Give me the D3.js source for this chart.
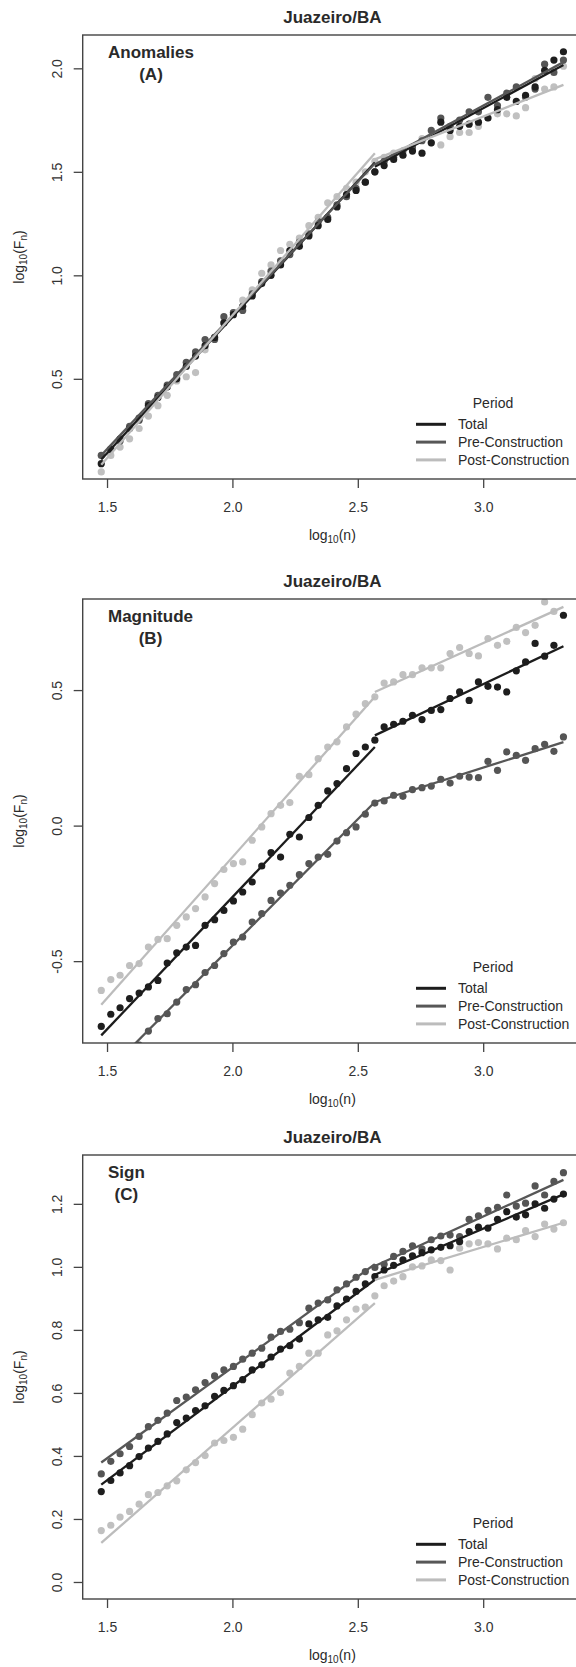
<!DOCTYPE html>
<html>
<head>
<meta charset="utf-8">
<script src="https://cdn.jsdelivr.net/npm/d3@7"></script>
<style>
body { margin: 0; background: #fff; }
svg text { font-family: "Liberation Sans", Arial, sans-serif; fill: #2a2a2a; }
</style>
</head>
<body>
<svg id="chart" width="576" height="1667"></svg>
<script>
// window size x = log10(n)
var logN = [1.477,1.515,1.552,1.590,1.628,1.665,1.703,1.740,1.778,1.816,1.853,1.891,1.929,1.966,2.004,2.041,2.079,2.117,2.154,2.192,
            2.229,2.267,2.305,2.342,2.380,2.417,2.455,2.493,2.530,2.568,2.605,2.643,2.680,2.718,2.756,2.793,2.831,2.868,2.906,2.944,
            2.981,3.019,3.057,3.094,3.132,3.169,3.207,3.245,3.282,3.320];

var periods = ["Total", "Pre-Construction", "Post-Construction"];

// (A) anomalies, log10(Fn)
var anomTotal = [0.09,0.16,0.21,0.26,0.31,0.37,0.41,0.46,0.50,0.56,0.61,0.66,0.70,0.77,0.81,0.85,0.90,0.96,1.00,1.05,
                 1.12,1.14,1.19,1.24,1.27,1.33,1.39,1.41,1.45,1.50,1.53,1.56,1.58,1.60,1.59,1.64,1.74,1.70,1.72,1.73,
                 1.74,1.76,1.80,1.86,1.84,1.87,1.91,1.99,2.04,2.08];
var anomPre = [0.13,0.16,0.20,0.27,0.30,0.38,0.42,0.47,0.52,0.58,0.63,0.69,0.69,0.80,0.82,0.83,0.91,0.97,1.02,1.07,
               1.10,1.16,1.20,1.26,1.28,1.34,1.38,1.42,1.45,1.50,1.55,1.57,1.60,1.62,1.65,1.70,1.76,1.72,1.75,1.79,
               1.79,1.86,1.82,1.88,1.91,1.86,1.90,2.02,1.98,2.04];
var anomPost = [0.05,0.13,0.17,0.21,0.26,0.32,0.37,0.42,0.49,0.51,0.53,0.64,0.70,0.77,0.82,0.88,0.93,1.01,1.05,1.12,
                1.15,1.18,1.24,1.28,1.35,1.38,1.42,1.45,1.50,1.55,1.57,1.59,1.58,1.62,1.66,1.64,1.63,1.67,1.69,1.69,
                1.72,1.76,1.78,1.78,1.77,1.81,1.95,1.90,1.91,2.01];
// fitted segments: [x0, y0, x1, y1]
var anomFitTotal = [[1.477,0.11,2.568,1.545],[2.568,1.525,3.32,2.016]];
var anomFitPre = [[1.477,0.13,2.568,1.54],[2.568,1.535,3.32,2.03]];
var anomFitPost = [[1.477,0.085,2.568,1.59],[2.568,1.56,3.32,1.92]];

// (B) magnitude
var magTotal = [-0.741,-0.696,-0.672,-0.638,-0.618,-0.595,-0.571,-0.507,-0.469,-0.448,-0.442,-0.368,-0.347,-0.313,-0.278,-0.245,-0.208,-0.149,-0.100,-0.116,
                -0.032,-0.042,0.030,0.075,0.128,0.155,0.210,0.266,0.290,0.315,0.364,0.374,0.385,0.407,0.391,0.425,0.428,0.469,0.493,0.462,
                0.530,0.514,0.511,0.493,0.571,0.604,0.672,0.625,0.665,0.776];
var magPre = [-0.93,-0.89,-0.86,-0.83,-0.81,-0.758,-0.712,-0.694,-0.651,-0.605,-0.587,-0.542,-0.516,-0.472,-0.430,-0.411,-0.356,-0.325,-0.276,-0.249,
              -0.220,-0.181,-0.140,-0.116,-0.106,-0.057,-0.026,-0.005,0.042,0.083,0.091,0.112,0.108,0.133,0.140,0.146,0.171,0.157,0.182,0.179,
              0.177,0.237,0.204,0.272,0.259,0.241,0.284,0.300,0.274,0.327];
var magPost = [-0.608,-0.568,-0.552,-0.516,-0.509,-0.448,-0.420,-0.417,-0.368,-0.337,-0.306,-0.263,-0.214,-0.162,-0.140,-0.134,-0.054,-0.005,0.044,0.075,
               0.085,0.182,0.188,0.247,0.290,0.309,0.364,0.411,0.450,0.475,0.526,0.530,0.557,0.557,0.582,0.582,0.582,0.635,0.657,0.635,
               0.626,0.690,0.665,0.680,0.731,0.712,0.739,0.825,0.790,0.850];
var magFitTotal = [[1.477,-0.774,2.568,0.29],[2.568,0.333,3.32,0.662]];
var magFitPre = [[1.477,-0.93,2.568,0.087],[2.568,0.087,3.32,0.308]];
var magFitPost = [[1.477,-0.661,2.568,0.475],[2.568,0.493,3.32,0.807]];

// (C) sign
var signTotal = [0.287,0.322,0.346,0.369,0.398,0.425,0.446,0.470,0.506,0.520,0.544,0.559,0.589,0.608,0.623,0.642,0.673,0.689,0.714,0.739,
                 0.750,0.771,0.819,0.832,0.840,0.876,0.898,0.922,0.946,0.969,0.990,1.005,1.022,1.035,1.045,1.054,1.062,1.067,1.080,1.112,
                 1.126,1.123,1.151,1.175,1.158,1.165,1.200,1.186,1.215,1.231];
var signPre = [0.343,0.383,0.407,0.430,0.462,0.493,0.513,0.536,0.576,0.587,0.610,0.633,0.654,0.673,0.684,0.707,0.726,0.742,0.777,0.795,
               0.802,0.823,0.869,0.885,0.895,0.927,0.946,0.967,0.985,0.998,1.008,1.033,1.049,1.067,1.057,1.086,1.098,1.101,1.096,1.151,
               1.162,1.179,1.189,1.228,1.193,1.202,1.257,1.228,1.271,1.299];
var signPost = [0.163,0.180,0.206,0.224,0.247,0.277,0.284,0.305,0.321,0.356,0.379,0.401,0.441,0.449,0.459,0.485,0.531,0.568,0.580,0.601,
                0.663,0.684,0.726,0.726,0.784,0.797,0.832,0.866,0.872,0.908,0.940,0.955,0.969,1.000,1.003,1.022,1.020,0.990,1.059,1.073,
                1.077,1.073,1.057,1.091,1.086,1.115,1.096,1.136,1.120,1.140];
var signFitTotal = [[1.477,0.309,2.568,0.959],[2.568,0.975,3.32,1.23]];
var signFitPre = [[1.477,0.379,2.568,1.0085],[2.568,1.003,3.32,1.276]];
var signFitPost = [[1.477,0.124,2.568,0.885],[2.568,0.959,3.32,1.14]];

var xTicks = [1.5, 2.0, 2.5, 3.0];

// layout
var xLimits = [1.403, 3.394];
var plotLeft = 82.7, plotRight = 582, plotHeight = 444;
var colors = ["#1c1c1c", "#575757", "#bcbcbc"];
var pointColors = ["#1e1e1e", "#555555", "#c0c0c0"];

var panels = [
  {id: "A", top: 35, yLim: [0.016, 2.161], yTicks: [0.5, 1.0, 1.5, 2.0], label: ["Anomalies", "(A)"],
   series: [anomTotal, anomPre, anomPost], fits: [anomFitTotal, anomFitPre, anomFitPost]},
  {id: "B", top: 599, yLim: [-0.802, 0.836], yTicks: [-0.5, 0.0, 0.5], label: ["Magnitude", "(B)"],
   series: [magTotal, magPre, magPost], fits: [magFitTotal, magFitPre, magFitPost]},
  {id: "C", top: 1155, yLim: [-0.054, 1.355], yTicks: [0.0, 0.2, 0.4, 0.6, 0.8, 1.0, 1.2], label: ["Sign", "(C)"],
   series: [signTotal, signPre, signPost], fits: [signFitTotal, signFitPre, signFitPost]}
];

var svg = d3.select("#chart");
var x = d3.scaleLinear().domain(xLimits).range([plotLeft, plotRight]);

panels.forEach(function(p) {
  var bottom = p.top + plotHeight;
  var y = d3.scaleLinear().domain(p.yLim).range([bottom, p.top]);
  var g = svg.append("g").attr("class", "panel");

  g.append("clipPath").attr("id", "clip" + p.id)
    .append("rect")
    .attr("x", plotLeft).attr("y", p.top)
    .attr("width", plotRight - plotLeft).attr("height", plotHeight);

  var inner = g.append("g").attr("clip-path", "url(#clip" + p.id + ")");

  // points, light ones first so the dark ones sit on top
  [2, 1, 0].forEach(function(s) {
    inner.selectAll(".pt" + s)
      .data(p.series[s])
      .enter().append("circle")
      .attr("class", "pt" + s)
      .attr("cx", function(d, i) { return x(logN[i]); })
      .attr("cy", function(d) { return y(d); })
      .attr("r", 3.6)
      .style("fill", pointColors[s]);
  });

  // fitted segments
  [0, 1, 2].forEach(function(s) {
    inner.selectAll(".fit" + s)
      .data(p.fits[s])
      .enter().append("line")
      .attr("class", "fit" + s)
      .attr("x1", function(d) { return x(d[0]); })
      .attr("y1", function(d) { return y(d[1]); })
      .attr("x2", function(d) { return x(d[2]); })
      .attr("y2", function(d) { return y(d[3]); })
      .style("stroke", colors[s])
      .style("stroke-width", 2.3);
  });

  // box
  g.append("rect")
    .attr("x", plotLeft).attr("y", p.top)
    .attr("width", plotRight - plotLeft).attr("height", plotHeight)
    .style("fill", "none").style("stroke", "#444").style("stroke-width", 1.4);

  // x axis
  var xAxis = g.append("g")
    .attr("transform", "translate(0," + bottom + ")")
    .call(d3.axisBottom(x).tickValues(xTicks).tickSize(9).tickFormat(function(d) { return d.toFixed(1); }));
  xAxis.select(".domain").remove();
  xAxis.selectAll("line").style("stroke", "#444").style("stroke-width", 1.3);
  xAxis.selectAll("text")
    .attr("y", 33).attr("dy", null)
    .style("font-size", "14px").style("font-family", "Liberation Sans, Arial, sans-serif").style("fill", "#333");

  // y axis
  var yAxis = g.append("g")
    .attr("transform", "translate(" + plotLeft + ",0)")
    .call(d3.axisLeft(y).tickValues(p.yTicks).tickSize(9).tickFormat(function(d) { return d.toFixed(1); }));
  yAxis.select(".domain").remove();
  yAxis.selectAll("line").style("stroke", "#444").style("stroke-width", 1.3);
  yAxis.selectAll("text")
    .attr("transform", "rotate(-90)")
    .attr("x", 0).attr("y", -21).attr("dy", null)
    .attr("text-anchor", "middle")
    .style("font-size", "14px").style("font-family", "Liberation Sans, Arial, sans-serif").style("fill", "#333");

  // title
  g.append("text")
    .attr("x", (plotLeft + plotRight) / 2)
    .attr("y", p.top - 12)
    .attr("text-anchor", "middle")
    .style("font-size", "17px").style("font-weight", "bold")
    .text("Juazeiro/BA");

  // x label
  var xl = g.append("text")
    .attr("x", (plotLeft + plotRight) / 2)
    .attr("y", bottom + 61)
    .attr("text-anchor", "middle")
    .style("font-size", "14px");
  xl.append("tspan").text("log");
  xl.append("tspan").attr("dy", 3).style("font-size", "10px").text("10");
  xl.append("tspan").attr("dy", -3).text("(n)");

  // y label
  var yl = g.append("text")
    .attr("transform", "translate(24," + (p.top + plotHeight / 2) + ") rotate(-90)")
    .attr("text-anchor", "middle")
    .style("font-size", "14px");
  yl.append("tspan").text("log");
  yl.append("tspan").attr("dy", 3).style("font-size", "10px").text("10");
  yl.append("tspan").attr("dy", -3).text("(F");
  yl.append("tspan").attr("dy", 3).style("font-size", "10px").text("n");
  yl.append("tspan").attr("dy", -3).text(")");

  // panel label
  var lab = g.append("g");
  var l1 = lab.append("text").attr("y", p.top + 23)
    .style("font-size", "17px").style("font-weight", "bold").attr("text-anchor", "middle").text(p.label[0]);
  var w = l1.node().getComputedTextLength();
  var cx = 108 + w / 2;
  l1.attr("x", cx);
  lab.append("text").attr("x", cx).attr("y", p.top + 45)
    .style("font-size", "17px").style("font-weight", "bold").attr("text-anchor", "middle").text(p.label[1]);

  // legend
  var leg = g.append("g");
  leg.append("text")
    .attr("x", 493).attr("y", bottom - 71)
    .attr("text-anchor", "middle")
    .style("font-size", "14px")
    .text("Period");
  periods.forEach(function(name, i) {
    var ly = bottom - 54.7 + i * 17.8;
    leg.append("line")
      .attr("x1", 416).attr("x2", 446)
      .attr("y1", ly).attr("y2", ly)
      .style("stroke", colors[i]).style("stroke-width", 3);
    leg.append("text")
      .attr("x", 458).attr("y", ly + 5)
      .style("font-size", "14px")
      .text(name);
  });
});
</script>
</body>
</html>
